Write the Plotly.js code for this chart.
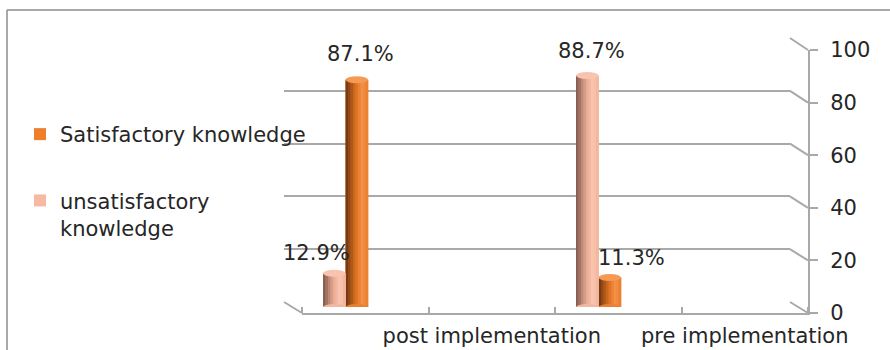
<!DOCTYPE html>
<html>
<head>
<meta charset="utf-8">
<script src="https://cdn.plot.ly/plotly-3.0.1.min.js"></script>
<style>html,body{margin:0;padding:0;background:#fff;}#chart{width:890px;height:350px;}</style>
</head>
<body>
<div id="chart"></div>
<script>
// ---- data ----
const categories = ['post implementation', 'pre implementation'];
const seriesNames = ['Satisfactory knowledge', 'unsatisfactory<br>knowledge'];
const satisfactory = [87.1, 11.3];
const unsatisfactory = [12.9, 88.7];
const yTicks = [0, 20, 40, 60, 80, 100];

// ---- styling ----
const FONT = 'DejaVu Sans';
const TXT = '#262626';
const GRID = '#a9a9a9';
const barW = 0.178;                 // bar width in slot units
const seriesStyle = [
  { values: satisfactory, offset: 0.415, base: '#ee7d2c', cap: '#f49a55',
    stops: [[0, '#6a3210'], [0.45, '#d96f1f'], [0.75, '#f7934a'], [1, '#e87c2c']],
    labelShift: [[4, 12], [22, 6]] },
  { values: unsatisfactory, offset: 0.237, base: '#f7b9a1', cap: '#f8c4af',
    stops: [[0, '#7a564b'], [0.45, '#e8a890'], [0.75, '#fcc6b0'], [1, '#f0b39c']],
    labelShift: [[-18, 6], [4, 10]] }
];
const N = 9;

function hex(c){return [1,3,5].map(i=>parseInt(c.substr(i,2),16));}
function lerp(stops, t){
  for(let i=0;i<stops.length-1;i++){
    const [t0,c0]=stops[i],[t1,c1]=stops[i+1];
    if(t>=t0&&t<=t1){
      const f=(t-t0)/(t1-t0), a=hex(c0), b=hex(c1);
      return 'rgb('+a.map((v,j)=>Math.round(v+(b[j]-v)*f)).join(',')+')';
    }
  }
  return stops[stops.length-1][1];
}

const slotX = categories.map((c, i) => 2 * i);
const traces = [
  { type: 'scatter', x: [], y: [], xaxis: 'x2', yaxis: 'y2', showlegend: false, hoverinfo: 'skip' },
  { type: 'scatter', x: [], y: [], xaxis: 'x', yaxis: 'y', showlegend: false, hoverinfo: 'skip' }
];
const shapes = [];
const annotations = [];

seriesStyle.forEach((s, si) => {
  traces.push({
    type: 'bar', name: seriesNames[si], x: slotX, y: s.values,
    offset: s.offset, width: barW, xaxis: 'x3', yaxis: 'y3',
    marker: { color: s.base }, legendgroup: 'g' + si, hoverinfo: 'skip'
  });
  for (let k = 0; k < N; k++) {
    traces.push({
      type: 'bar', x: slotX, y: s.values, showlegend: false,
      offset: s.offset + k * barW / N, width: barW / N + 0.003,
      xaxis: 'x3', yaxis: 'y3', legendgroup: 'g' + si,
      marker: { color: lerp(s.stops, (k + 0.5) / N) }, hoverinfo: 'skip'
    });
  }
  s.values.forEach((v, i) => {
    shapes.push({ type: 'circle', xref: 'x3', yref: 'y3', ysizemode: 'pixel', yanchor: v,
      x0: slotX[i] + s.offset, x1: slotX[i] + s.offset + barW, y0: -3.5, y1: 3.5,
      fillcolor: s.cap, line: { width: 0 } });
    shapes.push({ type: 'circle', xref: 'x3', yref: 'y3', ysizemode: 'pixel', yanchor: 0,
      x0: slotX[i] + s.offset, x1: slotX[i] + s.offset + barW, y0: -3, y1: 3,
      fillcolor: lerp(s.stops, 0.6), line: { width: 0 } });
    annotations.push({
      xref: 'x3', yref: 'y3', x: slotX[i] + s.offset + barW / 2, y: v,
      text: v.toFixed(1) + '%', showarrow: false, yanchor: 'bottom',
      xshift: s.labelShift[i][0], yshift: s.labelShift[i][1],
      font: { family: FONT, size: 21, color: TXT }
    });
  });
});

// 3D frame
const backX = 506 / 524, backY0 = 11 / 275, frontTop = 263 / 275;
yTicks.forEach(v => {
  shapes.push({ type: 'line', xref: 'paper', yref: 'paper',
    x0: backX, y0: backY0 + (1 - backY0) * v / 100, x1: 1, y1: frontTop * v / 100,
    line: { color: GRID, width: 2 } });
});
shapes.push({ type: 'line', xref: 'paper', yref: 'paper', x0: 0, y0: backY0, x1: 18 / 524, y1: 0,
  line: { color: GRID, width: 2 } });
// outer border
shapes.push({ type: 'line', xref: 'paper', yref: 'paper', x0: -277 / 524, y0: 303 / 275, x1: 610 / 524, y1: 303 / 275,
  line: { color: '#8c8c8c', width: 1.5 } });
shapes.push({ type: 'line', xref: 'paper', yref: 'paper', x0: -277 / 524, y0: 303 / 275, x1: -277 / 524, y1: -40 / 275,
  line: { color: '#8c8c8c', width: 1.5 } });

const layout = {
  width: 890, height: 350,
  margin: { l: 284, r: 82, t: 38, b: 37, autoexpand: false },
  paper_bgcolor: '#fff', plot_bgcolor: 'rgba(0,0,0,0)',
  barmode: 'overlay',
  showlegend: true,
  legend: {
    xref: 'container', yref: 'container', x: 20 / 890, y: 1 - 114 / 350,
    xanchor: 'left', yanchor: 'top', font: { family: FONT, size: 21, color: TXT },
    tracegroupgap: 36, traceorder: 'grouped', valign: 'top', itemwidth: 30,
    bgcolor: 'rgba(0,0,0,0)'
  },
  font: { family: FONT, color: TXT },
  xaxis2: {
    domain: [0, backX], range: [0, 4], anchor: 'y2',
    showticklabels: false, ticks: '', showgrid: false, zeroline: false, showline: false, fixedrange: true
  },
  yaxis2: {
    domain: [backY0, 1], range: [0, 100], anchor: 'x2',
    tickvals: yTicks, showticklabels: false, ticks: '', showgrid: true, gridcolor: GRID, gridwidth: 2,
    zeroline: false, showline: false, fixedrange: true
  },
  xaxis: {
    domain: [18 / 524, 1], range: [0, 4], anchor: 'y',
    tickvals: categories.map((c, i) => 2 * i + 1.5), ticktext: categories,
    ticks: 'outside', ticklen: 3, tickcolor: 'rgba(0,0,0,0)',
    tickfont: { family: FONT, size: 21, color: TXT },
    minor: { ticks: 'inside', dtick: 1, tick0: 0, ticklen: 6, tickcolor: GRID, tickwidth: 2, showgrid: false },
    showline: true, linecolor: GRID, linewidth: 2, showgrid: false, zeroline: false, fixedrange: true
  },
  yaxis: {
    domain: [0, frontTop], range: [0, 100], anchor: 'x', side: 'right',
    tickvals: yTicks, ticktext: yTicks.map(String), ticks: 'outside', ticklen: 8, tickwidth: 2,
    tickcolor: GRID, ticklabelstandoff: 8,
    tickfont: { family: FONT, size: 21, color: TXT },
    showline: true, linecolor: GRID, linewidth: 2, showgrid: false, zeroline: false, fixedrange: true
  },
  xaxis3: { domain: [9 / 524, 1 - 9 / 524], range: [0, 4], anchor: 'y3', visible: false, fixedrange: true },
  yaxis3: { domain: [6 / 275, 267 / 275], range: [0, 100], anchor: 'x3', visible: false, fixedrange: true },
  shapes: shapes,
  annotations: annotations
};

Plotly.newPlot('chart', traces, layout, { staticPlot: true, displayModeBar: false });
</script>
</body>
</html>
